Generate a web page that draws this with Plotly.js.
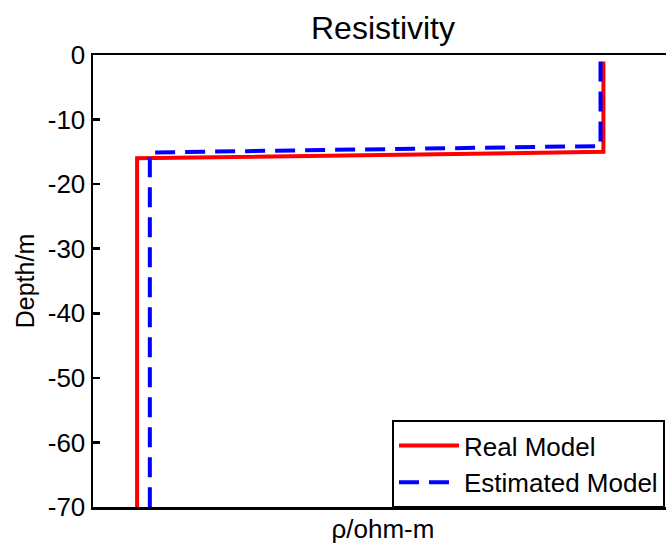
<!DOCTYPE html>
<html>
<head>
<meta charset="utf-8">
<script src="https://cdn.plot.ly/plotly-3.0.1.min.js"></script>
<style>html,body{margin:0;padding:0;overflow:hidden;background:#fff;}#chart{width:680px;height:548px;}</style>
</head>
<body>
<div id="chart"></div>
<script>
// Real model (resistivity profile, arbitrary x units)
const realRho   = [88, 88, 7.6, 7.6];
const realDepth = [-1, -15, -16, -70];
// Estimated model
const estRho    = [87.5, 87.5, 9.8, 9.8];
const estDepth  = [-1, -14.1, -15.1, -70];
const yTicks    = [0, -10, -20, -30, -40, -50, -60, -70];

const font = {family: 'Arial, "Liberation Sans", sans-serif', color: '#000'};
const data = [
  {x: realRho, y: realDepth, mode: 'lines', name: 'Real Model', legendgroup: 'a',
   line: {color: '#ff0000', width: 4}},
  {x: estRho, y: estDepth, mode: 'lines', name: 'Estimated Model', legendgroup: 'b',
   line: {color: '#0000ff', width: 4, dash: '20px,10px'}}
];
const layout = {
  width: 680, height: 548,
  margin: {l: 93, r: 7, t: 55, b: 41},
  paper_bgcolor: '#fff', plot_bgcolor: '#fff',
  font: Object.assign({size: 26}, font),
  title: {text: 'Resistivity', font: Object.assign({size: 32}, font), x: 0.5, xanchor: 'center', y: 0.95, yanchor: 'middle', xref: 'paper'},
  xaxis: {range: [0, 100], showticklabels: false, ticks: '', showline: true, linecolor: '#000', linewidth: 2.5, mirror: true,
          showgrid: false, zeroline: false,
          title: {text: 'ρ/ohm-m', font: Object.assign({size: 26}, font), standoff: 12}},
  yaxis: {range: [-70, 0], tickvals: yTicks, ticktext: yTicks.map(String), ticks: 'inside', ticklen: 7, tickwidth: 2.5, tickcolor: '#000',
          showline: true, linecolor: '#000', linewidth: 2.5, mirror: 'ticks', showgrid: false, zeroline: false,
          tickfont: Object.assign({size: 26}, font),
          title: {text: 'Depth/m', font: Object.assign({size: 25}, font), standoff: 6}},
  showlegend: true,
  legend: {x: 0.5155, xanchor: 'left', y: 0.1925, yanchor: 'top', bgcolor: '#fff', bordercolor: '#000', borderwidth: 2,
           font: Object.assign({size: 26}, font), traceorder: 'grouped', tracegroupgap: 0, itemwidth: 60}
};
Plotly.newPlot('chart', data, layout, {displayModeBar: false, staticPlot: true});
</script>
</body>
</html>
